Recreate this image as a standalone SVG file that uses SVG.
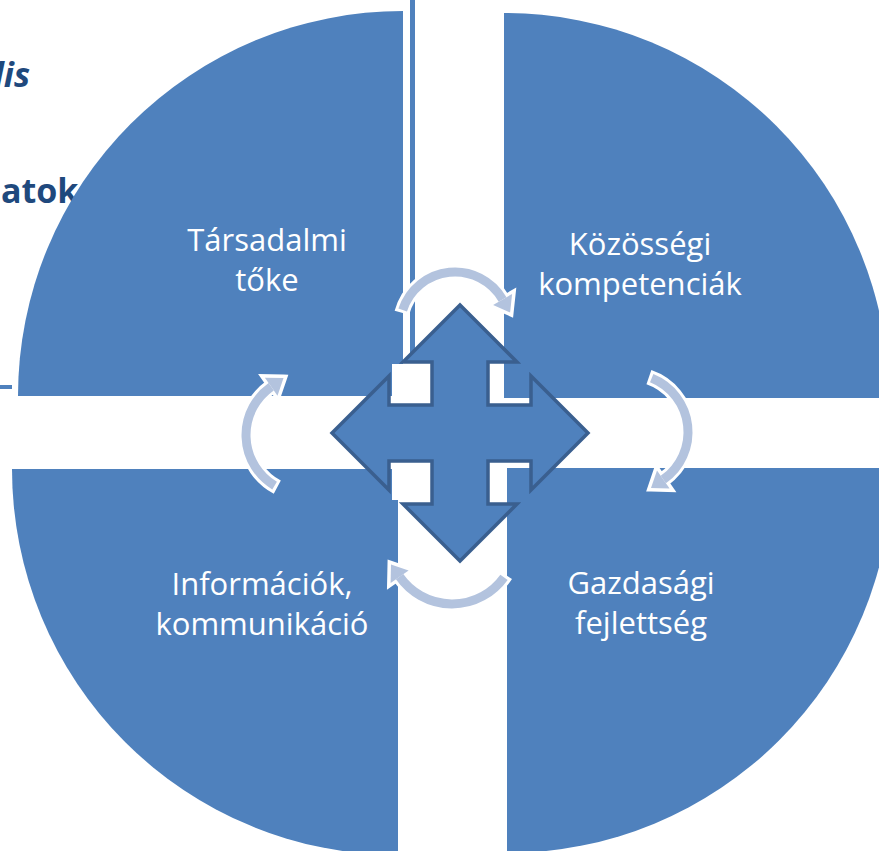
<svg xmlns="http://www.w3.org/2000/svg" width="879" height="851" viewBox="0 0 879 851">
  <defs>
    <style>
      .quad { fill: #4f81bd; }
      .lbl { fill: #ffffff; font-family: "Open Sans", "Noto Sans", "Liberation Sans", sans-serif; font-size: 31px; text-anchor: middle; }
      .bg { fill: #1f497d; font-family: "Open Sans", "Noto Sans", "Liberation Sans", sans-serif; font-size: 34px; font-weight: bold; }
      .arcW { fill: none; stroke: #ffffff; stroke-width: 15; }
      .arcB { fill: none; stroke: #b3c3de; stroke-width: 9; }
      .headW { fill: #ffffff; stroke: #ffffff; stroke-width: 7; stroke-linejoin: miter; }
      .headB { fill: #b3c3de; }
      .cross { fill: #4f81bd; stroke: #3a5f8f; stroke-width: 3.5; stroke-linejoin: miter; }
    </style>
  </defs>
  <rect width="879" height="851" fill="#ffffff"/>

  <g id="background">
    <text class="bg" x="30" y="87" text-anchor="end" font-style="italic">lis</text>
    <text class="bg" x="1" y="203">atok</text>
    <rect x="410" y="0" width="5" height="362" fill="#4f81bd"/>
    <rect x="0" y="385" width="12" height="4" fill="#4f81bd"/>
  </g>

  <g id="node-tarsadalmi">
    <path class="quad" d="M403,396 L18,396 A385,385 0 0 1 403,11 Z"/>
    <text class="lbl" x="267" y="251">Társadalmi</text>
    <text class="lbl" x="267" y="291">tőke</text>
  </g>
  <g id="node-kozossegi">
    <path class="quad" d="M504,398 L504,13 A385,385 0 0 1 889,398 Z"/>
    <text class="lbl" x="640" y="255">Közösségi</text>
    <text class="lbl" x="640" y="295">kompetenciák</text>
  </g>
  <g id="node-informaciok">
    <path class="quad" d="M398,469 L398,855 A386,386 0 0 1 12,469 Z"/>
    <text class="lbl" x="262" y="595">Információk,</text>
    <text class="lbl" x="262" y="635">kommunikáció</text>
  </g>
  <g id="node-gazdasagi">
    <path class="quad" d="M507,468 L892,468 A385,385 0 0 1 507,853 Z"/>
    <text class="lbl" x="641" y="594">Gazdasági</text>
    <text class="lbl" x="641" y="634">fejlettség</text>
  </g>

  <g id="center-arrow">
    <rect x="392" y="364" width="37" height="35" fill="#ffffff"/>
    <rect x="392" y="464" width="37" height="36" fill="#ffffff"/>
    <polygon class="cross" points="460,305 517,362 488,362 488,405 531,405 531,376 588,433 531,490 531,461 488,461 488,504 517,504 460,561 403,504 432,504 432,461 389,461 389,490 332,433 389,376 389,405 432,405 432,362 403,362"/>
  </g>

  <g id="connectors">
    <g id="cycle-top">
      <path class="arcW" d="M401.9,312.8 A55,55 0 0 1 502.6,299.5"/>
      <polygon class="headW" points="510.1,312.5 512.1,294.0 493.1,305.0"/>
      <path class="arcB" d="M402.7,310.0 A55,55 0 0 1 502.6,299.5"/>
      <polygon class="headB" points="510.1,312.5 512.1,294.0 493.1,305.0"/>
    </g>
    <g id="cycle-right">
      <path class="arcW" d="M648.9,377.2 A58,58 0 0 1 663.3,479.5"/>
      <polygon class="headW" points="651.0,488.1 669.6,488.5 657.0,470.5"/>
      <path class="arcB" d="M651.7,378.2 A58,58 0 0 1 663.3,479.5"/>
      <polygon class="headB" points="651.0,488.1 669.6,488.5 657.0,470.5"/>
    </g>
    <g id="cycle-bottom">
      <path class="arcW" d="M505.7,574.9 A64,64 0 0 1 399.6,576.7"/>
      <polygon class="headW" points="391.0,564.4 390.6,583.0 408.6,570.4"/>
      <path class="arcB" d="M504.0,577.3 A64,64 0 0 1 399.6,576.7"/>
      <polygon class="headB" points="391.0,564.4 390.6,583.0 408.6,570.4"/>
    </g>
    <g id="cycle-left">
      <path class="arcW" d="M277.3,487.1 A59,59 0 0 1 271.2,386.7"/>
      <polygon class="headW" points="283.5,378.1 264.9,377.7 277.5,395.7"/>
      <path class="arcB" d="M274.6,485.6 A59,59 0 0 1 271.2,386.7"/>
      <polygon class="headB" points="283.5,378.1 264.9,377.7 277.5,395.7"/>
    </g>
  </g>
</svg>
